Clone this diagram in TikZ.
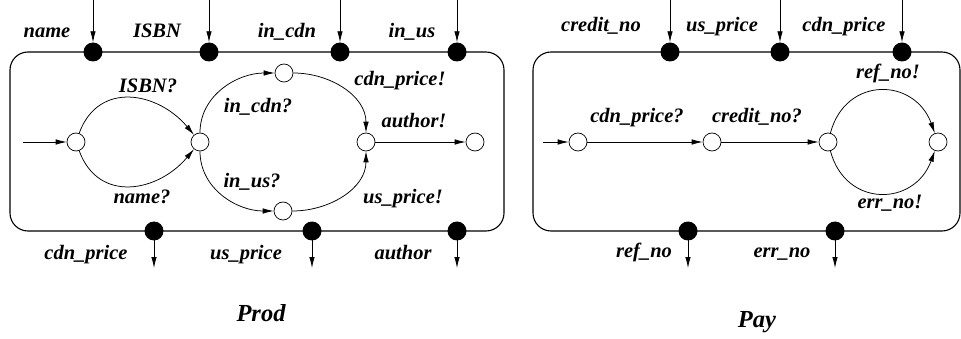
\documentclass[tikz,border=0pt]{standalone}
\usepackage{fontspec}
\setmainfont{Liberation Serif}
\usetikzlibrary{arrows.meta}
\begin{document}
\begin{tikzpicture}[x=1pt,y=-1pt,
  every node/.style={font=\fontsize{20.5}{22}\selectfont\bfseries\itshape},
  frame/.style={line width=1.1pt,rounded corners=18pt},
  port/.style={circle,fill=black,inner sep=0pt,minimum size=19pt},
  state/.style={circle,draw,fill=white,inner sep=0pt,minimum size=18pt,line width=0.7pt},
  trans/.style={line width=0.75pt,-{Latex[length=11pt,width=5.5pt]}},
  lbl/.style={anchor=base,inner sep=0pt},
  title/.style={anchor=base,inner sep=0pt,font=\fontsize{24.5}{26}\selectfont\bfseries\itshape}]
\useasboundingbox (0,0) rectangle (961,339);

% ---------------- Prod ----------------
\draw[frame] (10,52) rectangle (504,231);

\node[port] (pName) at (93,52) {};
\node[port] (pIsbn) at (209,52) {};
\node[port] (pInCdn) at (340,52) {};
\node[port] (pInUs) at (457,52) {};
\node[port] (pCdnPrice) at (154,231) {};
\node[port] (pUsPrice) at (312,231) {};
\node[port] (pAuthor) at (457,231) {};

\coordinate (tName) at (93,0);
\coordinate (tIsbn) at (209,0);
\coordinate (tInCdn) at (340,0);
\coordinate (tInUs) at (457,0);
\coordinate (bCdnPrice) at (154,268);
\coordinate (bUsPrice) at (312,268);
\coordinate (bAuthor) at (457,268);

\draw[trans] (tName) -- (pName.north);
\draw[trans] (tIsbn) -- (pIsbn.north);
\draw[trans] (tInCdn) -- (pInCdn.north);
\draw[trans] (tInUs) -- (pInUs.north);
\draw[trans] (pCdnPrice.center) -- (bCdnPrice);
\draw[trans] (pUsPrice.center) -- (bUsPrice);
\draw[trans] (pAuthor.center) -- (bAuthor);

\node[lbl] at (47,37.5) {name};
\node[lbl] at (157,37.5) {ISBN};
\node[lbl] at (287,37.5) {in\_cdn};
\node[lbl] at (412,37.5) {in\_us};
\node[lbl] at (86,259) {cdn\_price};
\node[lbl] at (246,259) {us\_price};
\node[lbl] at (403,259) {author};

\node[state] (s0) at (76,142) {};
\node[state] (s1) at (200,142) {};
\node[state] (s2) at (284,73) {};
\node[state] (s3) at (283,211) {};
\node[state] (s4) at (366,142) {};
\node[state] (s5) at (475,142) {};
\coordinate (sIn) at (23,142);

\draw[trans] (sIn) -- (s0);
\draw[trans] (s0) to[out=70,in=130,looseness=1.25] (s1);
\draw[trans] (s0) to[out=-70,in=-130,looseness=1.25] (s1);
\draw[trans] (s1.north) to[out=90,in=180] (s2.west);
\draw[trans] (s1.south) to[out=-90,in=180] (s3.west);
\draw[trans] (s2.east) to[out=0,in=90] (s4.north);
\draw[trans] (s3.east) to[out=0,in=-90] (s4.south);
\draw[trans] (s4) -- (s5);

\node[lbl] at (148,93) {ISBN?};
\node[lbl] at (142,204) {name?};
\node[lbl] at (258,113) {in\_cdn?};
\node[lbl] at (252,188) {in\_us?};
\node[lbl] at (400,86) {cdn\_price!};
\node[lbl] at (403,204) {us\_price!};
\node[lbl] at (414,128) {author!};

\node[title] at (261,321) {Prod};

% ---------------- Pay ----------------
\draw[frame] (533,52) rectangle (960,231);

\node[port] (qCredit) at (670,52) {};
\node[port] (qUsPrice) at (780,52) {};
\node[port] (qCdnPrice) at (902,52) {};
\node[port] (qRef) at (688,231) {};
\node[port] (qErr) at (835,231) {};

\coordinate (uCredit) at (670,0);
\coordinate (uUsPrice) at (780,0);
\coordinate (uCdnPrice) at (902,0);
\coordinate (dRef) at (688,268);
\coordinate (dErr) at (835,268);

\draw[trans] (uCredit) -- (qCredit.north);
\draw[trans] (uUsPrice) -- (qUsPrice.north);
\draw[trans] (uCdnPrice) -- (qCdnPrice.north);
\draw[trans] (qRef.center) -- (dRef);
\draw[trans] (qErr.center) -- (dErr);

\node[lbl] at (601,32) {credit\_no};
\node[lbl] at (722,32) {us\_price};
\node[lbl] at (844,32) {cdn\_price};
\node[lbl] at (644,258) {ref\_no};
\node[lbl] at (782,258) {err\_no};

\node[state] (p0) at (578,142) {};
\node[state] (p1) at (712,142) {};
\node[state] (p2) at (828,142) {};
\node[state] (p3) at (938,142) {};
\coordinate (pIn) at (543,142);

\draw[trans] (pIn) -- (p0);
\draw[trans] (p0) -- (p1);
\draw[trans] (p1) -- (p2);
\draw[trans] (p2) to[out=75,in=110,looseness=1.45] (p3);
\draw[trans] (p2) to[out=-75,in=-110,looseness=1.45] (p3);

\node[lbl] at (637,123) {cdn\_price?};
\node[lbl] at (757,123) {credit\_no?};
\node[lbl] at (888,79) {ref\_no!};
\node[lbl] at (890,209) {err\_no!};

\node[title] at (757,327) {Pay};
\end{tikzpicture}
\end{document}
